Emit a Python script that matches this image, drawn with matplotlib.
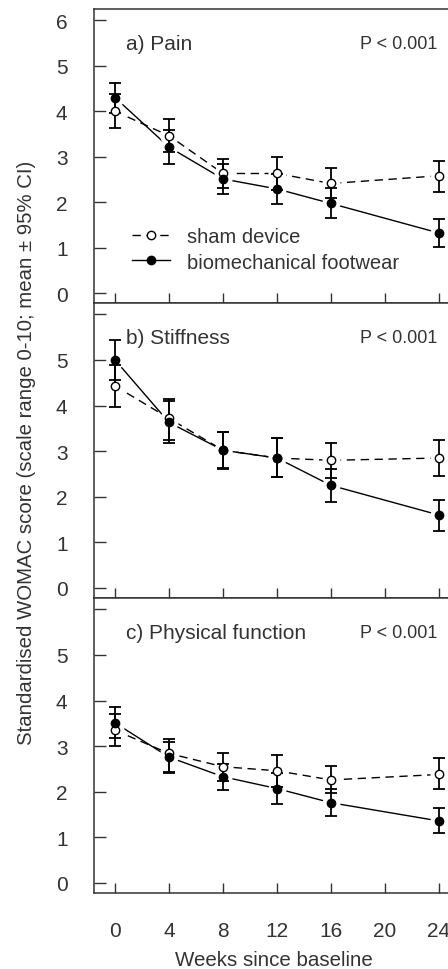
import matplotlib
matplotlib.use("Agg")
import matplotlib.pyplot as plt

plt.rcParams['font.family'] = ['Liberation Sans', 'DejaVu Sans']

weeks = [0, 4, 8, 12, 16, 24]
xticks = [0, 4, 8, 12, 16, 20, 24]

panel_titles = ["a) Pain", "b) Stiffness", "c) Physical function"]
p_labels = ["P < 0.001", "P < 0.001", "P < 0.001"]
series_labels = ["sham device", "biomechanical footwear"]

# Pain
pain_sham_mean = [4.00, 3.46, 2.63, 2.63, 2.41, 2.58]
pain_sham_lo = [3.63, 3.10, 2.30, 2.27, 2.08, 2.22]
pain_sham_hi = [4.37, 3.83, 2.94, 3.00, 2.74, 2.91]
pain_foot_mean = [4.30, 3.21, 2.51, 2.29, 1.97, 1.32]
pain_foot_lo = [3.97, 2.83, 2.17, 1.95, 1.64, 1.01]
pain_foot_hi = [4.63, 3.58, 2.84, 2.62, 2.30, 1.63]

# Stiffness
stif_sham_mean = [4.43, 3.72, 3.02, 2.85, 2.80, 2.85]
stif_sham_lo = [3.97, 3.24, 2.63, 2.43, 2.42, 2.46]
stif_sham_hi = [4.89, 4.14, 3.41, 3.28, 3.19, 3.24]
stif_foot_mean = [5.00, 3.63, 3.02, 2.85, 2.25, 1.60]
stif_foot_lo = [4.57, 3.19, 2.60, 2.43, 1.88, 1.24]
stif_foot_hi = [5.43, 4.09, 3.41, 3.28, 2.62, 1.93]

# Physical function
func_sham_mean = [3.35, 2.84, 2.55, 2.46, 2.26, 2.38]
func_sham_lo = [3.00, 2.44, 2.24, 2.11, 1.97, 2.06]
func_sham_hi = [3.70, 3.15, 2.86, 2.81, 2.57, 2.73]
func_foot_mean = [3.51, 2.76, 2.33, 2.07, 1.76, 1.36]
func_foot_lo = [3.17, 2.41, 2.04, 1.73, 1.47, 1.09]
func_foot_hi = [3.85, 3.10, 2.62, 2.41, 2.05, 1.64]

panels = [
    ((pain_sham_mean, pain_sham_lo, pain_sham_hi), (pain_foot_mean, pain_foot_lo, pain_foot_hi)),
    ((stif_sham_mean, stif_sham_lo, stif_sham_hi), (stif_foot_mean, stif_foot_lo, stif_foot_hi)),
    ((func_sham_mean, func_sham_lo, func_sham_hi), (func_foot_mean, func_foot_lo, func_foot_hi)),
]

TXT = '#333333'
SP = '#333333'

fig = plt.figure(figsize=(4.48, 9.70), dpi=100)
left = 94 / 448
width = 366 / 448
tops = [10, 304, 599]
bots = [304, 599, 894]

for i, (sham, foot) in enumerate(panels):
    b = (970 - bots[i]) / 970
    h = (bots[i] - tops[i]) / 970
    ax = fig.add_axes([left, b, width, h])
    ax.set_xlim(-1.56, 25.56)
    ax.set_ylim(-0.22, 6.25)

    # lines
    ax.plot(weeks, sham[0], color='black', lw=1.0, dashes=(6, 4), zorder=1)
    ax.plot(weeks, foot[0], color='black', lw=1.0, zorder=1)
    # white halos to leave gaps around points
    for s in (sham, foot):
        ax.plot(weeks, s[0], ls='none', marker='o', ms=13, mfc='white', mec='none', zorder=2)
    # error bars
    for s in (sham, foot):
        yerr = [[m - lo for m, lo in zip(s[0], s[1])], [hi - m for m, hi in zip(s[0], s[2])]]
        ax.errorbar(weeks, s[0], yerr=yerr, fmt='none', ecolor='black', elinewidth=1.3,
                    capsize=4, capthick=1.3, zorder=3)
    # markers
    ax.plot(weeks, sham[0], ls='none', marker='o', ms=6, mfc='white', mec='black', mew=1.0, zorder=4)
    ax.plot(weeks, foot[0], ls='none', marker='o', ms=6, mfc='black', mec='black', zorder=5)

    ax.text(0.8, 5.5, panel_titles[i], fontsize=15, color=TXT, ha='left', va='center')
    ax.text(23.85, 5.5, p_labels[i], fontsize=13, color=TXT, ha='right', va='center')

    ax.set_yticks(range(7))
    if i == 0:
        ax.set_yticklabels([str(v) for v in range(7)])
    else:
        ax.set_yticklabels([str(v) for v in range(6)] + [''])
    ax.set_xticks(xticks)
    if i == 2:
        ax.set_xticklabels([str(v) for v in xticks])
    else:
        ax.set_xticklabels([])
    ax.tick_params(axis='y', direction='in', length=8.5, width=1.0, color=SP,
                   labelsize=15, labelcolor=TXT, pad=19)
    ax.tick_params(axis='x', direction='in', length=7.5, width=1.0, color=SP,
                   labelsize=15, labelcolor=TXT, pad=20)
    for sp in ax.spines.values():
        sp.set_color(SP)
        sp.set_linewidth(1.1)

    if i == 0:
        h1, = ax.plot([], [], color='black', lw=1.0, dashes=(6, 4), marker='o', ms=6,
                      mfc='white', mec='black')
        h2, = ax.plot([], [], color='black', lw=1.0, marker='o', ms=6, mfc='black', mec='black')
        leg = ax.legend([h1, h2], series_labels, loc='center left', bbox_to_anchor=(0.105, 0.182),
                        frameon=False, fontsize=14.5, handlelength=1.85, handletextpad=0.85,
                        labelspacing=0.3, borderpad=0, borderaxespad=0)
        for t in leg.get_texts():
            t.set_color(TXT)

fig.text(27 / 448, 1 - 453 / 970, "Standardised WOMAC score (scale range 0-10; mean \u00b1 95% CI)",
         rotation=90, ha='center', va='center', fontsize=14.7, color=TXT)
fig.text(274 / 448, 1 - 961 / 970, "Weeks since baseline", ha='center', va='center',
         fontsize=14.8, color=TXT)

fig.savefig("out.png", dpi=100)
